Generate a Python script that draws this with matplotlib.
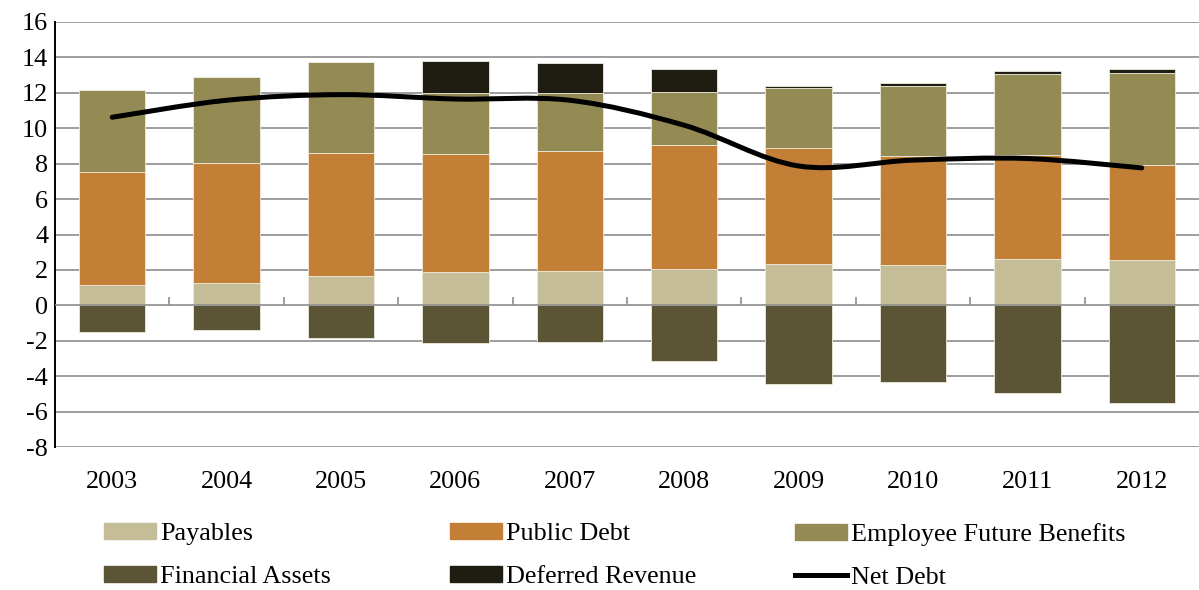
import numpy as np
import matplotlib
matplotlib.use("Agg")
import matplotlib.pyplot as plt
from matplotlib.path import Path
from matplotlib.patches import PathPatch, Patch
from matplotlib.lines import Line2D

# data (billions)
years = ["2003", "2004", "2005", "2006", "2007", "2008", "2009", "2010", "2011", "2012"]
payables = [1.13, 1.28, 1.67, 1.88, 1.92, 2.03, 2.31, 2.26, 2.59, 2.56]
public_debt = [6.42, 6.76, 6.94, 6.64, 6.77, 7.05, 6.60, 6.20, 5.91, 5.35]
employee_benefits = [4.59, 4.84, 5.11, 3.48, 3.32, 2.99, 3.36, 3.95, 4.59, 5.19]
deferred_revenue = [0.0, 0.0, 0.0, 1.80, 1.66, 1.30, 0.14, 0.15, 0.12, 0.23]
financial_assets = [-1.52, -1.41, -1.84, -2.11, -2.09, -3.16, -4.44, -4.34, -4.96, -5.51]
net_debt = [10.62, 11.58, 11.90, 11.65, 11.58, 10.17, 7.87, 8.20, 8.29, 7.76]

c_pay = "#C4BD97"
c_pd = "#C47F37"
c_efb = "#948A54"
c_fa = "#5C5535"
c_dr = "#1F1C12"
grid_c = "#8C8C8C"

plt.rcParams["font.family"] = ["Liberation Serif", "DejaVu Serif"]
plt.rcParams["font.size"] = 18.8
plt.rcParams["axes.unicode_minus"] = False

fig = plt.figure(figsize=(11.99, 5.90), dpi=100)
ax = fig.add_axes([55 / 1199, 1 - 447 / 590, 1 - 55 / 1199, (447 - 22) / 590])

x = np.arange(len(years))
w = 0.58
edge = dict(edgecolor="#EEEBDD", linewidth=0.6, zorder=3)

pay = np.array(payables)
pd_ = np.array(public_debt)
efb = np.array(employee_benefits)
ax.bar(x, pay, w, color=c_pay, **edge)
ax.bar(x, pd_, w, bottom=pay, color=c_pd, **edge)
ax.bar(x, efb, w, bottom=pay + pd_, color=c_efb, **edge)
ax.bar(x, deferred_revenue, w, bottom=pay + pd_ + efb, color=c_dr, **edge)
ax.bar(x, financial_assets, w, color=c_fa, **edge)

# smoothed net debt line (Excel style bezier through the points)
pts = np.column_stack([x, net_debt]).astype(float)
verts = [tuple(pts[0])]
codes = [Path.MOVETO]
n = len(pts)
for i in range(n - 1):
    p0 = pts[max(i - 1, 0)]
    p1 = pts[i]
    p2 = pts[i + 1]
    p3 = pts[min(i + 2, n - 1)]
    c1 = p1 + (p2 - p0) / 6
    c2 = p2 - (p3 - p1) / 6
    verts += [tuple(c1), tuple(c2), tuple(p2)]
    codes += [Path.CURVE4] * 3
ax.add_patch(PathPatch(Path(verts, codes), facecolor="none", edgecolor="black",
                       linewidth=3.6, capstyle="round", joinstyle="round", zorder=5))

ax.set_xlim(-0.5, len(years) - 0.5)
ax.set_ylim(-8, 16)
ax.set_yticks(range(-8, 17, 2))
for yv in range(-8, 17, 2):
    if yv != 0:
        ax.axhline(yv, color=grid_c, linewidth=1.2, zorder=1)
ax.axhline(0, color=grid_c, linewidth=1.2, zorder=4)
ax.vlines(np.arange(0.5, len(years) - 0.5, 1), 0, 0.45, color=grid_c, linewidth=1.2, zorder=4)

ax.set_xticks(x)
ax.set_xticklabels(years)
ax.tick_params(axis="x", length=0, pad=17)
ax.tick_params(axis="y", length=0, pad=5)
for s in ["top", "right", "bottom"]:
    ax.spines[s].set_visible(False)
ax.spines["left"].set_linewidth(1.4)
ax.spines["left"].set_color("black")

# legend: three columns placed like the original
cols = [
    ([Patch(color=c_pay), Patch(color=c_fa)], ["Payables", "Financial Assets"], 104),
    ([Patch(color=c_pd), Patch(color=c_dr)], ["Public Debt", "Deferred Revenue"], 450),
    ([Patch(color=c_efb), Line2D([], [], color="black", linewidth=3.6)],
     ["Employee Future Benefits", "Net Debt"], 795),
]
for handles, labels, px in cols:
    fig.legend(handles, labels, loc="upper left", bbox_to_anchor=(px / 1199, 1 - 523 / 590),
               frameon=False, borderpad=0, borderaxespad=0, handlelength=2.0,
               handleheight=0.55, handletextpad=0.15, labelspacing=0.8)

fig.savefig("out.png", dpi=100)
